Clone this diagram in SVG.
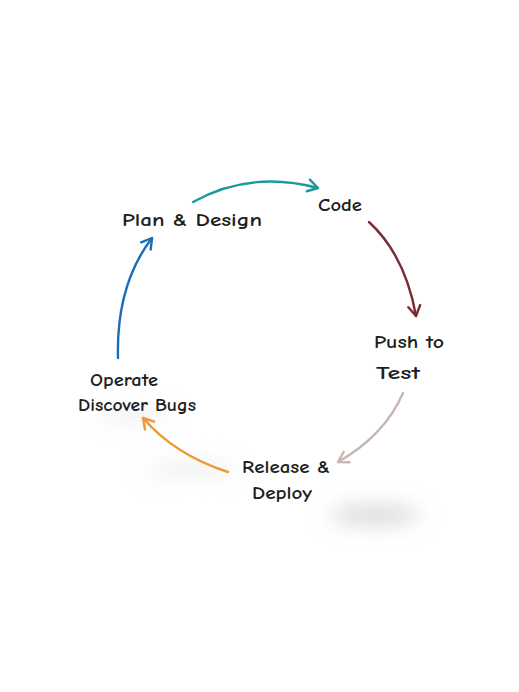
<svg xmlns="http://www.w3.org/2000/svg" width="519" height="692" viewBox="0 0 519 692">
<style>
.lbl{font-family:"Comic Neue","Noto Sans","DejaVu Sans",sans-serif;font-size:18px;font-weight:700;fill:#1e1e1e;text-anchor:middle}
.c{fill:none;stroke-width:2.4;stroke-linecap:round}
</style>
<defs>
<filter id="blur" x="-50%" y="-50%" width="200%" height="200%"><feGaussianBlur stdDeviation="10"/></filter>
<marker id="mTeal" viewBox="-12 -8 14 16" markerWidth="14" markerHeight="16" refX="0" refY="0" orient="auto" markerUnits="userSpaceOnUse"><path d="M-10,-6 L0,0 L-10,6" fill="none" stroke="#1b9a9c" stroke-width="2.4" stroke-linecap="round" stroke-linejoin="round"/></marker>
<marker id="mMaroon" viewBox="-12 -8 14 16" markerWidth="14" markerHeight="16" refX="0" refY="0" orient="auto" markerUnits="userSpaceOnUse"><path d="M-10,-6 L0,0 L-10,6" fill="none" stroke="#7b2b36" stroke-width="2.4" stroke-linecap="round" stroke-linejoin="round"/></marker>
<marker id="mPink" viewBox="-12 -8 14 16" markerWidth="14" markerHeight="16" refX="0" refY="0" orient="auto" markerUnits="userSpaceOnUse"><path d="M-10,-6 L0,0 L-10,6" fill="none" stroke="#c9b5b6" stroke-width="2.4" stroke-linecap="round" stroke-linejoin="round"/></marker>
<marker id="mOrange" viewBox="-12 -8 14 16" markerWidth="14" markerHeight="16" refX="0" refY="0" orient="auto" markerUnits="userSpaceOnUse"><path d="M-10,-6 L0,0 L-10,6" fill="none" stroke="#eb9a35" stroke-width="2.4" stroke-linecap="round" stroke-linejoin="round"/></marker>
<marker id="mBlue" viewBox="-12 -8 14 16" markerWidth="14" markerHeight="16" refX="0" refY="0" orient="auto" markerUnits="userSpaceOnUse"><path d="M-10,-6 L0,0 L-10,6" fill="none" stroke="#1a6db8" stroke-width="2.4" stroke-linecap="round" stroke-linejoin="round"/></marker>
</defs>
<rect width="519" height="692" fill="#ffffff"/>
<g id="shadows" filter="url(#blur)">
<ellipse cx="375" cy="515" rx="45" ry="10" fill="#dadada"/>
<ellipse cx="190" cy="470" rx="45" ry="8" fill="#f0f0f0"/>
<ellipse cx="135" cy="415" rx="35" ry="6" fill="#ececec"/>
</g>
<g id="connectors">
<path class="c" d="M193,202 Q250,170 318,188" stroke="#1b9a9c" marker-end="url(#mTeal)"/>
<path class="c" d="M369,222 Q405,255 416,316" stroke="#7b2b36" marker-end="url(#mMaroon)"/>
<path class="c" d="M403,393 Q385,435 338,462" stroke="#c9b5b6" marker-end="url(#mPink)"/>
<path class="c" d="M228,472 Q175,455 143,418" stroke="#eb9a35" marker-end="url(#mOrange)"/>
<path class="c" d="M118,358 Q116,285 152,238" stroke="#1a6db8" marker-end="url(#mBlue)"/>
</g>
<g id="plan"><text class="lbl" x="192" y="226" textLength="140" lengthAdjust="spacingAndGlyphs">Plan &amp; Design</text></g>
<g id="code"><text class="lbl" x="340" y="211" textLength="44" lengthAdjust="spacingAndGlyphs">Code</text></g>
<g id="push"><text class="lbl" x="409" y="348" textLength="70" lengthAdjust="spacingAndGlyphs">Push to</text><text class="lbl" x="398" y="379" textLength="44" lengthAdjust="spacingAndGlyphs">Test</text></g>
<g id="release"><text class="lbl" x="286" y="473" textLength="88" lengthAdjust="spacingAndGlyphs">Release &amp;</text><text class="lbl" x="282" y="499" textLength="60" lengthAdjust="spacingAndGlyphs">Deploy</text></g>
<g id="operate"><text class="lbl" x="124" y="386" textLength="68" lengthAdjust="spacingAndGlyphs">Operate</text><text class="lbl" x="137" y="411" textLength="118" lengthAdjust="spacingAndGlyphs">Discover Bugs</text></g>
</svg>
